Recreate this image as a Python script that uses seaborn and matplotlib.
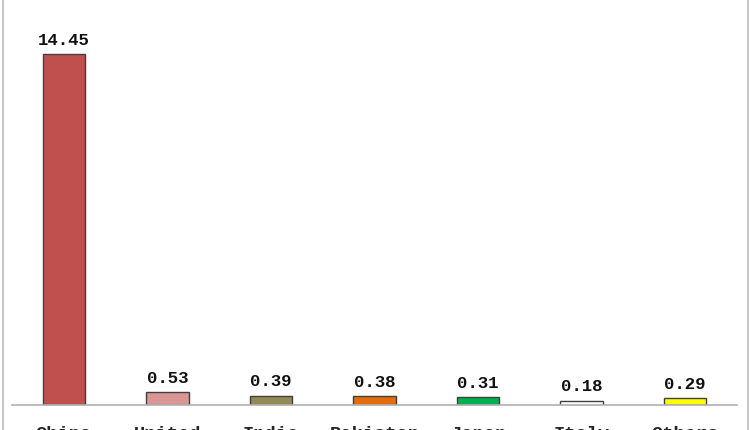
import matplotlib
matplotlib.use("Agg")
import matplotlib.pyplot as plt
import seaborn as sns
from matplotlib.lines import Line2D

# data
countries = ["China", "United\nStates", "India", "Pakistan", "Japan", "Italy", "Others"]
values = [14.45, 0.53, 0.39, 0.38, 0.31, 0.18, 0.29]
colors = ["#c0504d", "#d99694", "#948a54", "#e46c0a", "#00b050", "#ffffff", "#ffff00"]

sns.set_style("white")
plt.rcParams["font.family"] = ["Liberation Mono", "DejaVu Sans Mono"]

fig = plt.figure(figsize=(7.5, 4.3), dpi=100)
ax = fig.add_axes([12 / 750, 25 / 430, 725 / 750, 405 / 430])

sns.barplot(x=countries, y=values, hue=countries, palette=colors, width=0.41,
            saturation=1, edgecolor="#3f3f3f", linewidth=1, legend=False, ax=ax)

for c in ax.containers:
    ax.bar_label(c, fmt="%.2f", padding=4.5, fontsize=12.5, fontweight="bold", color="#111111")

ax.set_ylim(0, 16.67)
ax.set_xlim(-0.5, 6.5)
ax.set_xlabel("")
ax.set_ylabel("")
ax.set_yticks([])
for s in ["left", "right", "top"]:
    ax.spines[s].set_visible(False)
ax.spines["bottom"].set_color("#b0b0b0")
ax.spines["bottom"].set_linewidth(1.2)
ax.tick_params(axis="x", length=0, pad=15, labelsize=13.5)
for t in ax.get_xticklabels():
    t.set_fontweight("bold")
    t.set_verticalalignment("top")

# outer frame edges
fig.add_artist(Line2D([2.5 / 750, 2.5 / 750], [0, 1], color="#c8c8c8", lw=1.5))
fig.add_artist(Line2D([747.5 / 750, 747.5 / 750], [0, 1], color="#c8c8c8", lw=1.5))

fig.savefig("out.png", dpi=100)
